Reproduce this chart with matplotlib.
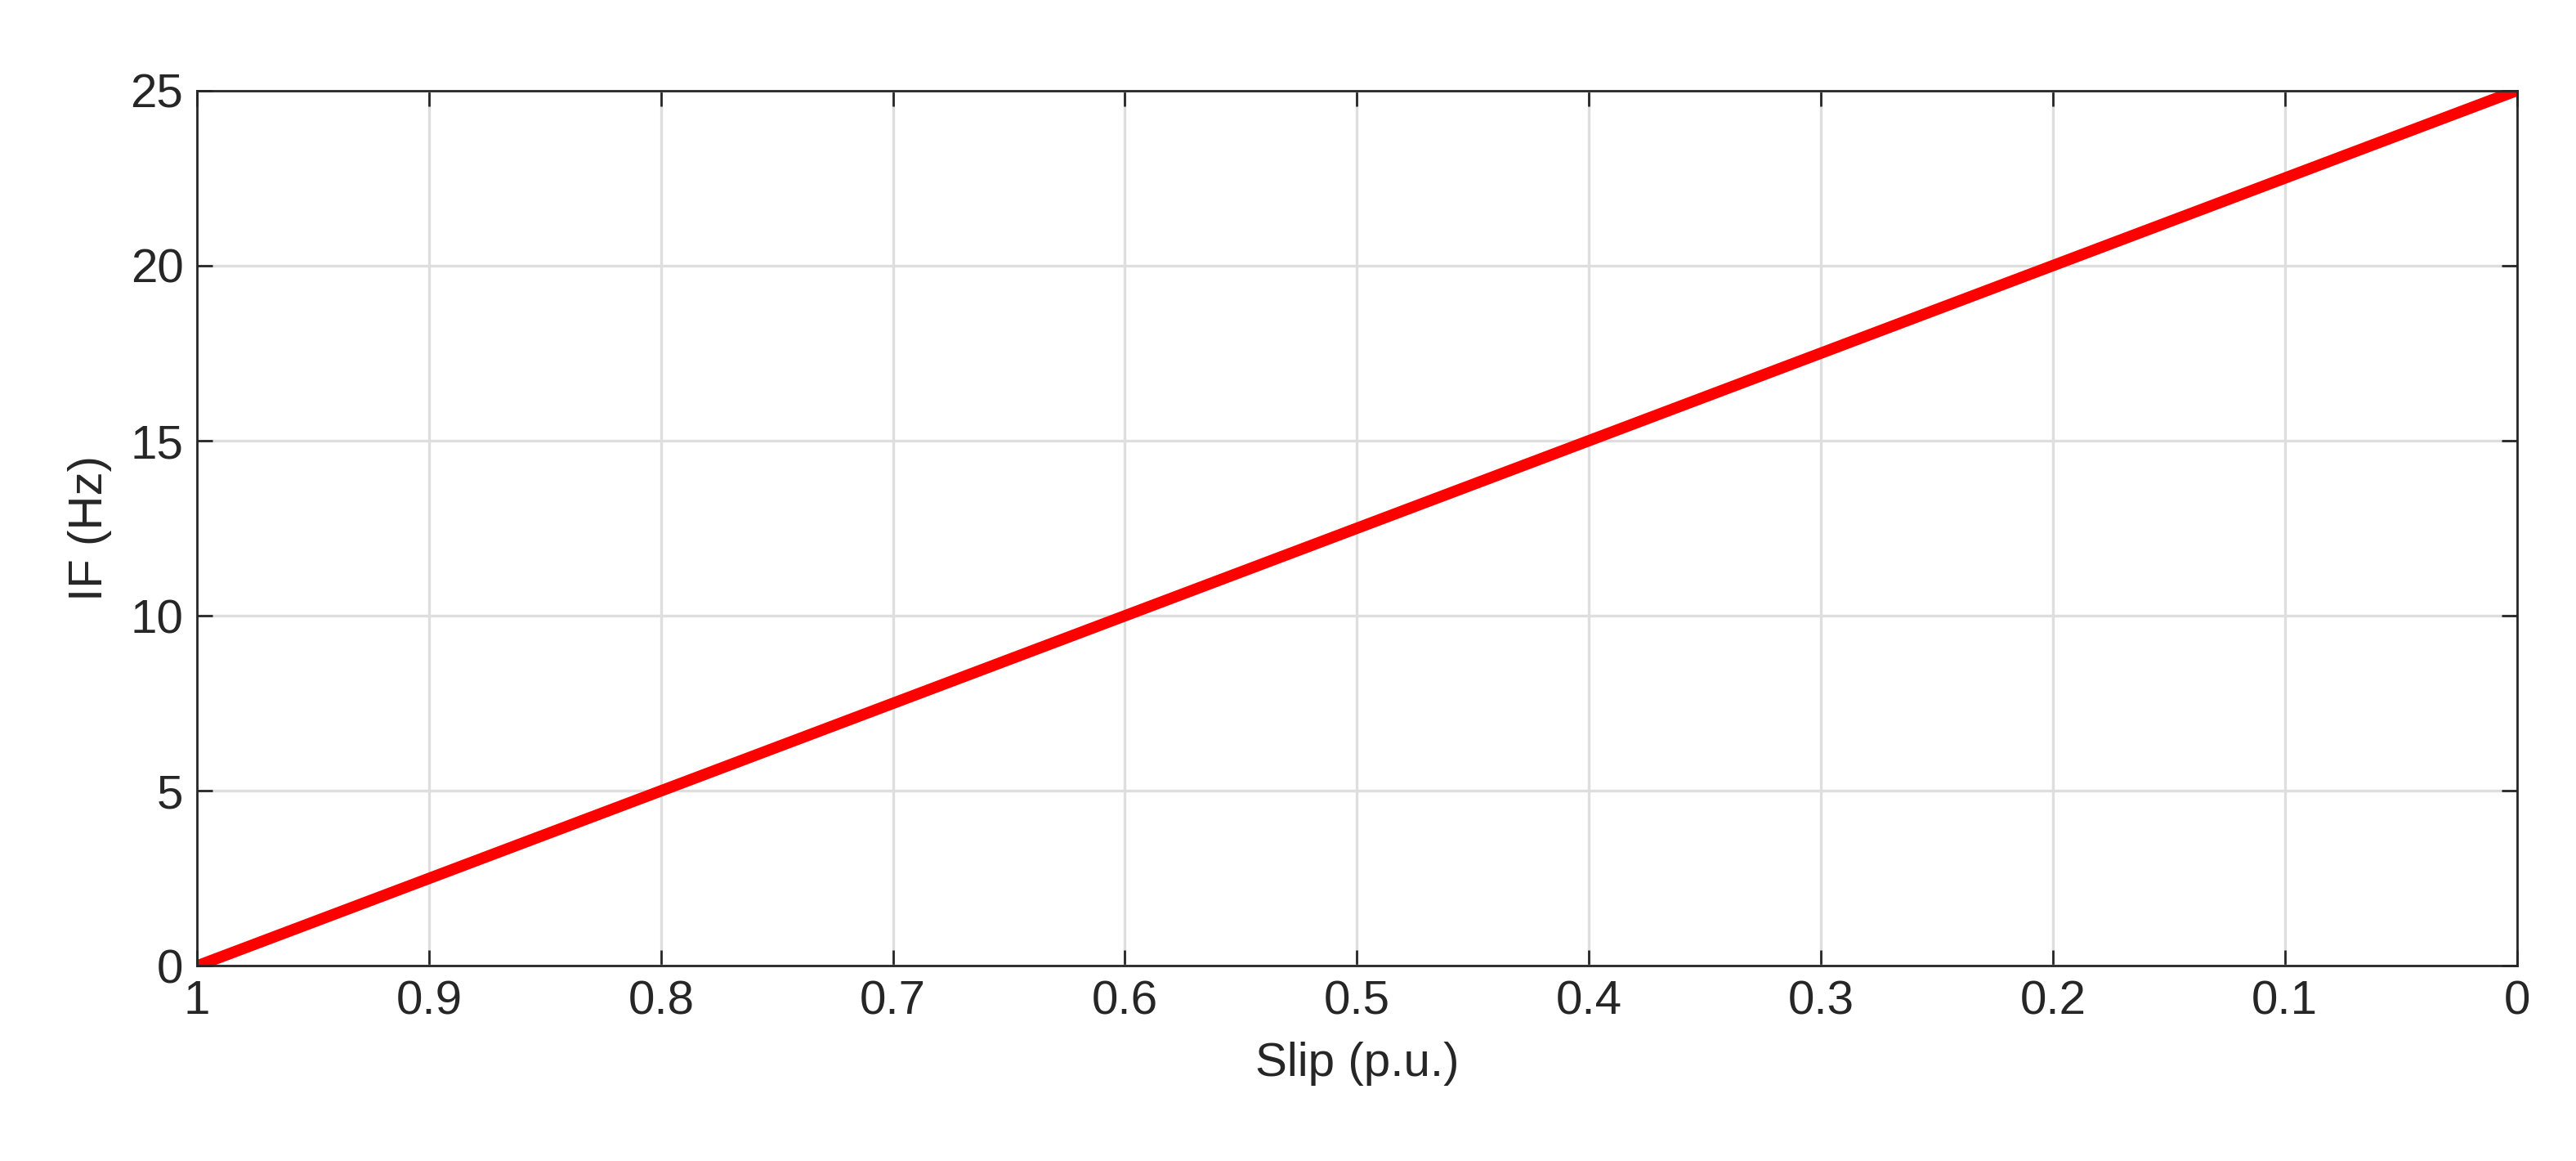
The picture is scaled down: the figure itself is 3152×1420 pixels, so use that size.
import matplotlib
matplotlib.use("Agg")
import matplotlib.pyplot as plt

slip = [1.0, 0.0]
freq = [0.0, 25.0]
xticks = [1, 0.9, 0.8, 0.7, 0.6, 0.5, 0.4, 0.3, 0.2, 0.1, 0]
xticklabels = ["1", "0.9", "0.8", "0.7", "0.6", "0.5", "0.4", "0.3", "0.2", "0.1", "0"]
yticks = [0, 5, 10, 15, 20, 25]

plt.rcParams['font.family'] = ['Liberation Sans', 'DejaVu Sans']
fig = plt.figure(figsize=(15.76, 7.10), dpi=200)
ax = fig.add_axes([0.0765, 0.168, 0.9005, 0.754])
ax.plot(slip, freq, color='#ff0000', linewidth=5, solid_capstyle='round')
ax.set_xlim(1, 0)
ax.set_ylim(0, 25)
ax.set_xticks(xticks)
ax.set_xticklabels(xticklabels)
ax.set_yticks(yticks)
ax.grid(True, color='#dedede', linewidth=1.2)
ax.set_axisbelow(True)
ax.tick_params(direction='in', length=7, width=1, top=True, right=True,
               labelsize=21, colors='#262626', pad=6)
for s in ax.spines.values():
    s.set_color('#262626')
    s.set_linewidth(1)
ax.set_xlabel('Slip (p.u.)', fontsize=21, color='#262626', labelpad=8)
ax.set_ylabel('IF (Hz)', fontsize=21, color='#262626', labelpad=8)
fig.savefig('out.png', dpi=200, facecolor='white')
